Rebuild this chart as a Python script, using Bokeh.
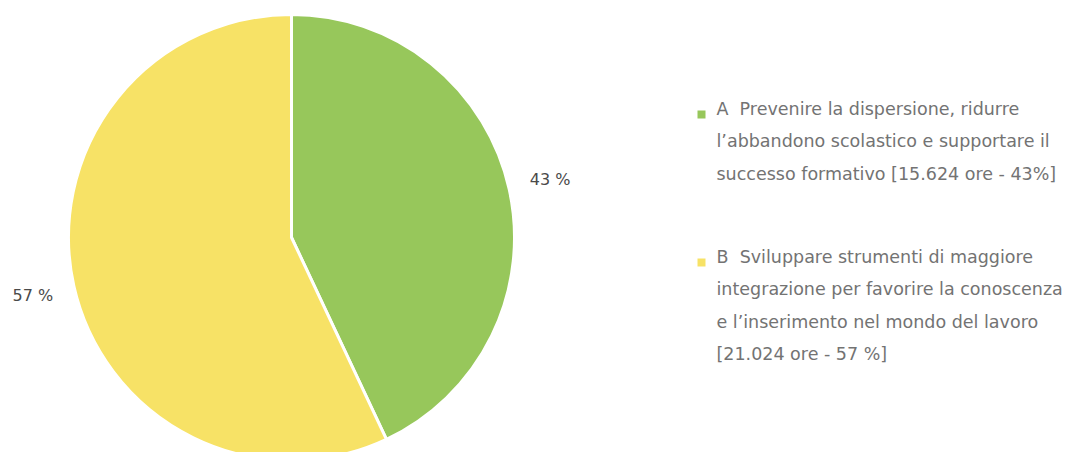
import math
from bokeh.plotting import figure
from bokeh.models import ColumnDataSource, Range1d
from bokeh.core.properties import value
from bokeh.embed import file_html
from bokeh.resources import INLINE

# ---- data ----
categories = ["A", "B"]
hours = [15624, 21024]
percents = [43, 57]
colors = ["#97c75b", "#f7e266"]
slice_labels = ["43 %", "57 %"]
legend_lines = [
    ["A\u00a0\u00a0Prevenire la dispersione, ridurre",
     "l\u2019abbandono scolastico e supportare il",
     "successo formativo [15.624 ore - 43%]"],
    ["B\u00a0\u00a0Sviluppare strumenti di maggiore",
     "integrazione per favorire la conoscenza",
     "e l\u2019inserimento nel mondo del lavoro",
     "[21.024 ore - 57 %]"],
]

W, H = 1083, 452
p = figure(width=W, height=H, output_backend="svg", toolbar_location=None,
           x_range=Range1d(0, W), y_range=Range1d(0, H), min_border=0,
           outline_line_color=None)
p.axis.visible = False
p.grid.visible = False

def sx(x):
    return x
def sy(y):
    return H - y

cx, cy, r = sx(291), sy(237), 223
total = sum(percents)
starts, ends = [], []
a = math.pi / 2
for v in percents:
    e = a - 2 * math.pi * v / total
    starts.append(e)
    ends.append(a)
    a = e

src = ColumnDataSource(dict(cat=categories, start=starts, end=ends, color=colors))
p.wedge(x=cx, y=cy, radius=r, start_angle="start", end_angle="end",
        fill_color="color", line_color="white", line_width=3, source=src)

# slice labels
lab_x, lab_y = [], []
for s, e in zip(starts, ends):
    mid = (s + e) / 2
    lab_x.append(cx + (r + 42) * math.cos(mid))
    lab_y.append(cy + (r + 42) * math.sin(mid))
p.text(x=lab_x, y=lab_y, text=slice_labels, text_font=value("DejaVu Sans"),
       text_font_size="16px", text_color="#4a4a4a", text_align="center",
       text_baseline="middle")

# legend
tops = [108, 256]
lh = 32.5
for i, lines in enumerate(legend_lines):
    p.scatter(x=[sx(701)], y=[sy(tops[i] + 6)], marker="square", size=8,
              fill_color=colors[i], line_color=None)
    ys = [sy(tops[i] + k * lh) for k in range(len(lines))]
    p.text(x=[sx(716)] * len(lines), y=ys, text=lines,
           text_font=value("DejaVu Sans"), text_font_size="17.5px",
           text_color="#737373", text_baseline="middle", text_align="left")

open("out.html", "w").write(file_html(p, INLINE))
